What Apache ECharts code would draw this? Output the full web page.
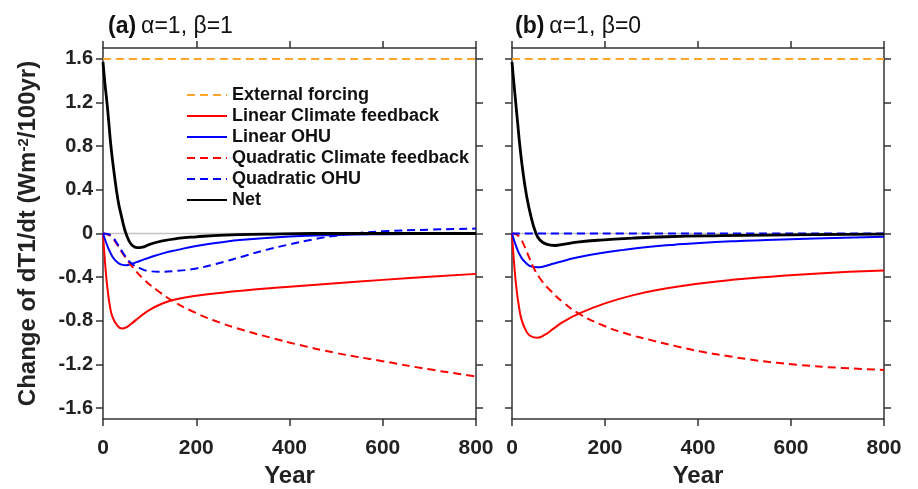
<!DOCTYPE html>
<html>
<head>
<meta charset="utf-8">
<script src="https://cdn.jsdelivr.net/npm/echarts@6/dist/echarts.min.js"></script>
<style>
html, body { margin: 0; padding: 0; background: #fff; }
#chart { width: 918px; height: 489px; }
</style>
</head>
<body>
<div id="chart"></div>
<script>
// values, [year, change of dT1/dt]
const forcingA = [[0, 1.6], [800, 1.6]];
const linClimA = [[0, 0], [5, -0.3], [10, -0.52], [15, -0.67], [20, -0.76], [30, -0.84], [40, -0.87], [50, -0.86], [60, -0.83], [80, -0.76], [100, -0.7], [120, -0.655], [150, -0.61], [200, -0.57], [260, -0.54], [330, -0.51], [400, -0.488], [500, -0.455], [600, -0.425], [700, -0.396], [800, -0.37]];
const linOhuA = [[0, 0], [10, -0.12], [20, -0.21], [30, -0.26], [40, -0.285], [50, -0.29], [60, -0.28], [80, -0.25], [100, -0.22], [130, -0.18], [160, -0.15], [200, -0.115], [250, -0.082], [300, -0.057], [400, -0.028], [500, -0.013], [600, -0.006], [800, 0]];
const quadClimA = [[0, 0], [10, -0.01], [20, -0.04], [30, -0.1], [45, -0.2], [64, -0.31], [90, -0.43], [116, -0.52], [150, -0.62], [190, -0.71], [240, -0.8], [300, -0.885], [360, -0.955], [420, -1.02], [500, -1.095], [600, -1.17], [700, -1.245], [800, -1.31]];
const quadOhuA = [[0, 0], [10, -0.005], [20, -0.03], [30, -0.09], [45, -0.19], [60, -0.27], [80, -0.32], [100, -0.345], [120, -0.35], [150, -0.345], [200, -0.32], [250, -0.27], [300, -0.21], [350, -0.15], [400, -0.1], [450, -0.055], [500, -0.02], [550, 0.005], [600, 0.02], [700, 0.035], [800, 0.045]];
const netA = [[0, 1.57], [4, 1.38], [8, 1.22], [12, 1.04], [17, 0.8], [24, 0.55], [32, 0.31], [40, 0.15], [47, 0.03], [55, -0.06], [63, -0.11], [73, -0.13], [85, -0.125], [100, -0.1], [125, -0.07], [160, -0.045], [200, -0.03], [260, -0.015], [350, -0.006], [450, 0], [800, 0]];

const forcingB = [[0, 1.6], [800, 1.6]];
const linClimB = [[0, 0], [5, -0.3], [10, -0.52], [15, -0.67], [20, -0.78], [30, -0.89], [40, -0.94], [55, -0.955], [70, -0.93], [90, -0.87], [110, -0.81], [146, -0.73], [200, -0.64], [261, -0.565], [330, -0.505], [404, -0.458], [480, -0.422], [548, -0.398], [650, -0.368], [800, -0.34]];
const linOhuB = [[0, 0], [10, -0.13], [20, -0.22], [30, -0.27], [40, -0.3], [55, -0.31], [70, -0.3], [90, -0.275], [118, -0.242], [150, -0.21], [189, -0.18], [240, -0.15], [297, -0.122], [350, -0.102], [404, -0.086], [480, -0.07], [548, -0.06], [650, -0.046], [800, -0.03]];
const quadClimB = [[0, 0], [10, -0.01], [17, -0.04], [25, -0.1], [35, -0.2], [45, -0.3], [60, -0.41], [82, -0.52], [110, -0.63], [146, -0.74], [189, -0.83], [240, -0.91], [297, -0.975], [350, -1.03], [404, -1.08], [460, -1.12], [512, -1.155], [570, -1.185], [619, -1.205], [700, -1.23], [800, -1.25]];
const quadOhuB = [[0, 0], [800, 0]];
const netB = [[0, 1.57], [4, 1.38], [8, 1.2], [12, 1.02], [17, 0.8], [24, 0.55], [32, 0.33], [40, 0.17], [50, 0.02], [60, -0.06], [75, -0.1], [92, -0.11], [110, -0.1], [140, -0.08], [190, -0.06], [260, -0.042], [333, -0.03], [450, -0.02], [550, -0.014], [650, -0.01], [800, -0.005]];

const zeroLine = [[0, 0], [800, 0]];
const yTicks = [-1.6, -1.2, -0.8, -0.4, 0, 0.4, 0.8, 1.2, 1.6];
const legendNames = ['External forcing', 'Linear Climate feedback', 'Linear OHU', 'Quadratic Climate feedback', 'Quadratic OHU', 'Net'];

const FONT = '"Liberation Sans", Arial, sans-serif';
const axisLine = { onZero: false, lineStyle: { color: '#333', width: 1.5 } };
const tick = { show: true, inside: false, length: 7, lineStyle: { color: '#333', width: 1.5 } };

const xAxisFor = (gridIndex, position, showLabels) => ({
	type: 'value',
	gridIndex,
	position,
	min: 0,
	max: 800,
	interval: 200,
	axisLine,
	axisTick: tick,
	splitLine: { show: false },
	axisLabel: {
		show: showLabels,
		margin: 19,
		color: '#222',
		fontSize: 21,
		fontWeight: 'bold',
		fontFamily: FONT
	},
	name: showLabels ? 'Year' : '',
	nameLocation: 'middle',
	nameGap: 39,
	nameTextStyle: { color: '#222', fontSize: 24, fontWeight: 'bold', fontFamily: FONT }
});

const yAxisFor = (gridIndex, position, showLabels) => ({
	type: 'value',
	gridIndex,
	position,
	min: -1.7,
	max: 1.7,
	axisLine,
	axisTick: Object.assign({ customValues: yTicks }, tick),
	splitLine: { show: false },
	axisLabel: {
		show: showLabels,
		customValues: yTicks,
		margin: 10,
		color: '#222',
		fontSize: 20,
		fontWeight: 'bold',
		fontFamily: FONT,
		formatter: (v) => (Math.abs(v) < 1e-9 ? '0' : v.toFixed(1))
	},
	name: showLabels ? '{t|Change of dT1/dt (Wm}{s|-2}{t|/100yr)}' : '',
	nameLocation: 'middle',
	nameGap: 62,
	nameRotate: 90,
	nameTextStyle: {
		rich: {
			t: { color: '#222', fontSize: 24, fontWeight: 'bold', fontFamily: FONT },
			s: { color: '#222', fontSize: 15, fontWeight: 'bold', fontFamily: FONT, padding: [0, 0, 10, 0] }
		}
	}
});

const lineSeries = (name, data, panel, color, width, dashed) => ({
	name,
	type: 'line',
	data,
	xAxisIndex: panel * 2,
	yAxisIndex: panel * 2,
	showSymbol: false,
	symbol: 'none',
	smooth: 0.5,
	lineStyle: { color, width, type: dashed ? [8, 5] : 'solid' },
	itemStyle: { color, opacity: 0 },
	z: 3
});

const panelSeries = (panel, d) => [
	{
		name: 'zero',
		type: 'line',
		data: zeroLine,
		xAxisIndex: panel * 2,
		yAxisIndex: panel * 2,
		symbol: 'none',
		silent: true,
		lineStyle: { color: '#c4c4c4', width: 1.5 },
		z: 1
	},
	lineSeries('External forcing', d[0], panel, '#ffa52c', 2, true),
	lineSeries('Linear Climate feedback', d[1], panel, '#ff0000', 2, false),
	lineSeries('Linear OHU', d[2], panel, '#0000ff', 2, false),
	lineSeries('Quadratic Climate feedback', d[3], panel, '#ff0000', 2, true),
	lineSeries('Quadratic OHU', d[4], panel, '#0000ff', 2, true),
	lineSeries('Net', d[5], panel, '#000000', 2.8, false)
];

const titleFor = (left, tag, text) => ({
	left,
	top: 10,
	text: '{b|' + tag + '} {n|' + text + '}',
	textStyle: {
		fontWeight: 'normal',
		rich: {
			b: { fontSize: 23, fontWeight: 'bold', color: '#111', fontFamily: FONT },
			n: { fontSize: 23, fontWeight: 'normal', color: '#111', fontFamily: FONT }
		}
	}
});

const chart = echarts.init(document.getElementById('chart'), null, { renderer: 'canvas' });

chart.setOption({
	animation: false,
	backgroundColor: '#fff',
	title: [
		titleFor(103, '(a)', 'α=1, β=1'),
		titleFor(510, '(b)', 'α=1, β=0')
	],
	legend: {
		data: legendNames,
		orient: 'vertical',
		left: 181,
		top: 81,
		itemWidth: 40,
		itemHeight: 14,
		itemGap: 3,
		selectedMode: false,
		itemStyle: { opacity: 0 },
		textStyle: { fontSize: 18, lineHeight: 18, fontWeight: 'bold', color: '#111', fontFamily: FONT }
	},
	grid: [
		{ left: 103, top: 48, width: 373, height: 371, outerBoundsMode: 'none' },
		{ left: 512, top: 48, width: 372, height: 371, outerBoundsMode: 'none' }
	],
	xAxis: [
		xAxisFor(0, 'bottom', true),
		xAxisFor(0, 'top', false),
		xAxisFor(1, 'bottom', true),
		xAxisFor(1, 'top', false)
	],
	yAxis: [
		yAxisFor(0, 'left', true),
		yAxisFor(0, 'right', false),
		yAxisFor(1, 'left', false),
		yAxisFor(1, 'right', false)
	],
	series: [
		...panelSeries(0, [forcingA, linClimA, linOhuA, quadClimA, quadOhuA, netA]),
		...panelSeries(1, [forcingB, linClimB, linOhuB, quadClimB, quadOhuB, netB])
	]
});
</script>
</body>
</html>
